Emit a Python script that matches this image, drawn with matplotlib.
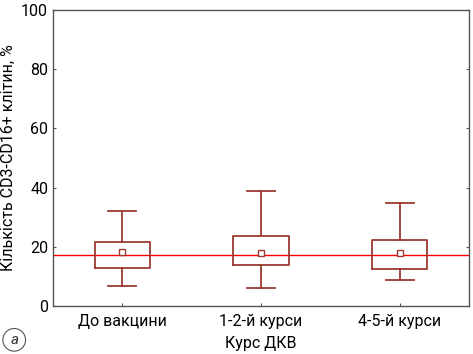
import matplotlib
matplotlib.use("Agg")
import matplotlib.pyplot as plt
from matplotlib.patches import Ellipse

plt.rcParams['font.family'] = ['Roboto', 'DejaVu Sans']

categories = ["До вакцини", "1-2-й курси", "4-5-й курси"]
whisker_low = [6.9, 6.0, 8.9]
q1 = [12.7, 14.0, 12.4]
q3 = [21.5, 23.8, 22.3]
whisker_high = [32.0, 39.0, 34.9]
means = [18.2, 17.8, 17.8]
reference_level = 17.2

box_color = "#9b3a32"

fig = plt.figure(figsize=(4.73, 3.54), dpi=100)
ax = fig.add_axes([0.112, 0.1356, 0.8795, 0.8362])

stats = []
for i, name in enumerate(categories):
    stats.append({
        "label": name,
        "whislo": whisker_low[i],
        "q1": q1[i],
        "med": means[i],
        "q3": q3[i],
        "whishi": whisker_high[i],
        "mean": means[i],
    })

ax.bxp(stats, positions=range(len(categories)), widths=0.4,
       showmeans=True, meanline=False, showfliers=False,
       boxprops=dict(color=box_color, linewidth=1.3),
       whiskerprops=dict(color=box_color, linewidth=1.3),
       capprops=dict(color=box_color, linewidth=1.3),
       medianprops=dict(linewidth=0),
       meanprops=dict(marker="s", markersize=4, markerfacecolor="white",
                      markeredgecolor=box_color, markeredgewidth=1.0),
       capwidths=0.2)

ax.axhline(reference_level, color="red", linewidth=1.0, zorder=1)

ax.set_xlim(-0.5, 2.5)
ax.set_ylim(0, 100)
ax.set_yticks([0, 20, 40, 60, 80, 100])
ax.set_xticks(range(len(categories)))
ax.set_xticklabels(categories)
ax.tick_params(axis="both", labelsize=11.5, direction="in", length=2,
               color="#555555", right=True)
ax.tick_params(axis="x", pad=6)
for s in ax.spines.values():
    s.set_color("#555555")
    s.set_linewidth(1.0)

ax.set_ylabel("Кількість CD3-CD16+ клітин, %", fontsize=11.5, labelpad=4)
ax.set_xlabel("Курс ДКВ", fontsize=11.5, labelpad=5)

fig.patches.append(Ellipse((0.030, 0.040), 0.048, 0.064, transform=fig.transFigure,
                           fill=False, edgecolor="#555555", linewidth=0.8))
fig.text(0.030, 0.040, "a", ha="center", va="center", fontsize=11,
         style="italic", color="#333333")

fig.savefig("out.png", dpi=100)
